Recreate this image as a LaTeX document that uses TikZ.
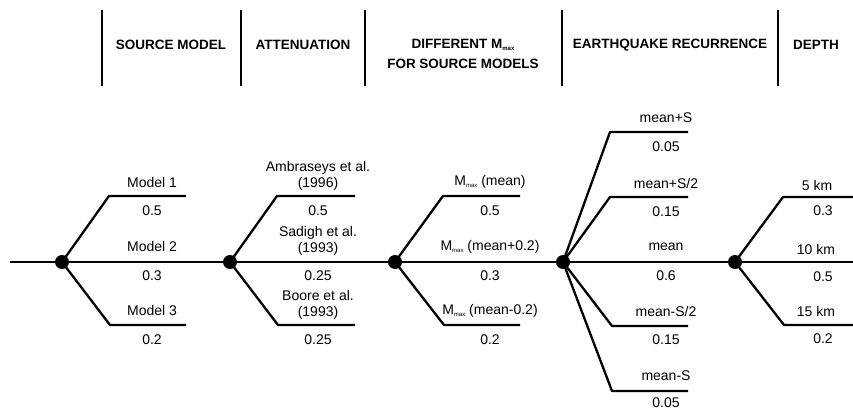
\documentclass[tikz,border=0pt]{standalone}
\usepackage{fontspec}
\setmainfont{Liberation Sans}
\begin{document}
\begin{tikzpicture}[x=1pt,y=-1pt,
  dot/.style={circle,fill=black,inner sep=0pt,minimum size=14pt},
  branch/.style={line width=2.3pt,line join=round},
  sep/.style={line width=2.6pt},
  lbl/.style={inner sep=0pt,font=\fontsize{14}{16}\selectfont},
  hdr/.style={inner sep=0pt,align=center,font=\bfseries\fontsize{13.5}{20}\selectfont}]
\useasboundingbox (0,0) rectangle (853,412);
\newcommand\mmax{M\raisebox{-1.5pt}{\fontsize{6}{6}\selectfont max}}
% header separators
\foreach \x/\n in {102/a,241/b,365/c,562/d,778/e}{
  \coordinate (s\n t) at (\x,10); \coordinate (s\n b) at (\x,86);
  \draw[sep] (s\n t) -- (s\n b);}
\node[hdr] (h1) at (171,45) {SOURCE MODEL};
\node[hdr] (h2) at (303,45) {ATTENUATION};
\node[hdr] (h3) at (463,54) {DIFFERENT \mmax\\FOR SOURCE MODELS};
\node[hdr] (h4) at (670,45) {EARTHQUAKE RECURRENCE};
\node[hdr] (h5) at (816,45) {DEPTH};
% main line
\coordinate (start) at (10,262);
\coordinate (end) at (853,262);
\draw[branch] (start) -- (end);
% chance nodes
\node[dot] (n1) at (62,262) {};
\node[dot] (n2) at (230,262) {};
\node[dot] (n3) at (395,262) {};
\node[dot] (n4) at (563,262) {};
\node[dot] (n5) at (735,262) {};
% branches node 1
\coordinate (c1u) at (109,196); \coordinate (e1u) at (186,196);
\coordinate (c1d) at (110,325); \coordinate (e1d) at (186,325);
\draw[branch] (n1.center) -- (c1u) -- (e1u);
\draw[branch] (n1.center) -- (c1d) -- (e1d);
% node 2
\coordinate (c2u) at (277,196); \coordinate (e2u) at (355,196);
\coordinate (c2d) at (278,325); \coordinate (e2d) at (355,325);
\draw[branch] (n2.center) -- (c2u) -- (e2u);
\draw[branch] (n2.center) -- (c2d) -- (e2d);
% node 3
\coordinate (c3u) at (443,196); \coordinate (e3u) at (520,196);
\coordinate (c3d) at (444,325); \coordinate (e3d) at (520,325);
\draw[branch] (n3.center) -- (c3u) -- (e3u);
\draw[branch] (n3.center) -- (c3d) -- (e3d);
% node 4
\coordinate (c4a) at (610,132); \coordinate (e4a) at (688,132);
\coordinate (c4b) at (610,197); \coordinate (e4b) at (688,197);
\coordinate (c4d) at (612,326); \coordinate (e4d) at (688,326);
\coordinate (c4e) at (612,391); \coordinate (e4e) at (688,391);
\draw[branch] (n4.center) -- (c4a) -- (e4a);
\draw[branch] (n4.center) -- (c4b) -- (e4b);
\draw[branch] (n4.center) -- (c4d) -- (e4d);
\draw[branch] (n4.center) -- (c4e) -- (e4e);
% node 5
\coordinate (c5u) at (783,197); \coordinate (e5u) at (853,197);
\coordinate (c5d) at (784,325); \coordinate (e5d) at (853,325);
\draw[branch] (n5.center) -- (c5u) -- (e5u);
\draw[branch] (n5.center) -- (c5d) -- (e5d);
% labels node 1
\node[lbl] (l11) at (152,182) {Model 1};
\node[lbl] (p11) at (152,211) {0.5};
\node[lbl] (l12) at (152,246) {Model 2};
\node[lbl] (p12) at (152,276) {0.3};
\node[lbl] (l13) at (152,310) {Model 3};
\node[lbl] (p13) at (152,340) {0.2};
% labels node 2
\node[lbl,align=center] (l21) at (318,176) {Ambraseys et al.\\(1996)};
\node[lbl] (p21) at (318,211) {0.5};
\node[lbl,align=center] (l22) at (318,241) {Sadigh et al.\\(1993)};
\node[lbl] (p22) at (318,276) {0.25};
\node[lbl,align=center] (l23) at (318,305) {Boore et al.\\(1993)};
\node[lbl] (p23) at (318,340) {0.25};
% labels node 3
\node[lbl] (l31) at (490,182) {\mmax{} (mean)};
\node[lbl] (p31) at (490,211) {0.5};
\node[lbl] (l32) at (490,247) {\mmax{} (mean+0.2)};
\node[lbl] (p32) at (490,276) {0.3};
\node[lbl] (l33) at (490,311) {\mmax{} (mean-0.2)};
\node[lbl] (p33) at (490,340) {0.2};
% labels node 4
\node[lbl] (l41) at (666,118) {mean+S};
\node[lbl] (p41) at (666,147) {0.05};
\node[lbl] (l42) at (666,183) {mean+S/2};
\node[lbl] (p42) at (666,212) {0.15};
\node[lbl] (l43) at (666,247) {mean};
\node[lbl] (p43) at (666,276) {0.6};
\node[lbl] (l44) at (666,311) {mean-S/2};
\node[lbl] (p44) at (666,340) {0.15};
\node[lbl] (l45) at (666,376) {mean-S};
\node[lbl] (p45) at (666,403) {0.05};
% labels node 5
\node[lbl] (l51) at (817,185) {5 km};
\node[lbl] (p51) at (823,211) {0.3};
\node[lbl] (l52) at (816,249) {10 km};
\node[lbl] (p52) at (823,277) {0.5};
\node[lbl] (l53) at (816,311) {15 km};
\node[lbl] (p53) at (823,339) {0.2};
\end{tikzpicture}
\end{document}
